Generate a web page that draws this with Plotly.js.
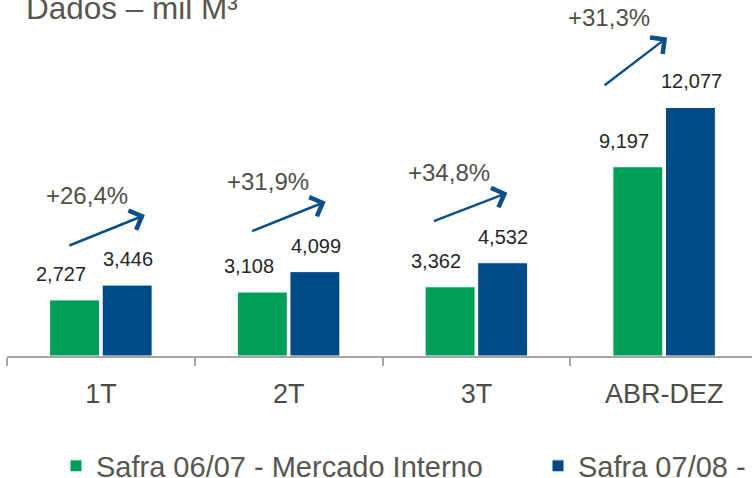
<!DOCTYPE html>
<html>
<head>
<meta charset="utf-8">
<script src="https://cdn.plot.ly/plotly-3.0.1.min.js"></script>
<style>
  html, body { margin: 0; padding: 0; overflow: hidden; background: #fff; }
  #chart { width: 1100px; height: 478px; }
</style>
</head>
<body>
<div id="chart"></div>
<script>
const categories = ['1T', '2T', '3T', 'ABR-DEZ'];
const safra0607 = [2727, 3108, 3362, 9197];
const safra0708 = [3446, 4099, 4532, 12077];
const seriesNames = ['Safra 06/07 - Mercado Interno', 'Safra 07/08 - Mercado Interno'];

const font = 'Liberation Sans, Arial, sans-serif';
const green = '#009e58';
const blue = '#004a87';

const fmt = v => v.toLocaleString('en-US');
const growth = (a, b) => '+' + ((b / a - 1) * 100).toFixed(1).replace('.', ',') + '%';

// arrow placement, px: head offset from category centre, tail offset from head
const headShift = [44, 37, 31, 3];
const tailOffset = [[-77, 31], [-75, 30], [-75, 29], [-64, 49]];

// the slide is cropped on the right, so the figure is wider than the window
const W = 1100;
const catPx = 187.75;
const plotW = W - 7;

const annotations = [{
    xref: 'paper', yref: 'paper', x: (24 - 7) / plotW, y: 1, xanchor: 'left', yanchor: 'bottom',
    yshift: -28, showarrow: false, text: 'Dados – mil M³',
    font: { family: font, size: 31.5, color: '#57574f' }
}];

categories.forEach((c, i) => {
    annotations.push({
        x: c, y: safra0607[i], xshift: -40, yshift: 13, yanchor: 'bottom',
        showarrow: false, text: fmt(safra0607[i]),
        font: { family: font, size: 20, color: '#262626' }
    });
    annotations.push({
        x: c, y: safra0708[i], xshift: 27, yshift: 13, yanchor: 'bottom',
        showarrow: false, text: fmt(safra0708[i]),
        font: { family: font, size: 20, color: '#262626' }
    });
    annotations.push({
        x: c, y: safra0708[i], xshift: headShift[i], yshift: 70,
        text: '', showarrow: true, arrowhead: 4, arrowsize: 1.6, arrowwidth: 2.5,
        arrowcolor: '#0b4f8c', ax: tailOffset[i][0], ay: tailOffset[i][1], standoff: 0
    });
    annotations.push({
        x: c, y: safra0708[i], xshift: headShift[i] - 58, yshift: 90,
        showarrow: false, text: growth(safra0607[i], safra0708[i]),
        font: { family: font, size: 24, color: '#4f4f47' }
    });
});

const data = [
    {
        type: 'bar', name: seriesNames[0], x: categories, y: safra0607,
        marker: { color: green, line: { color: '#ffffff', width: 1 } }, hoverinfo: 'none'
    },
    {
        type: 'bar', name: seriesNames[1], x: categories, y: safra0708,
        marker: { color: blue, line: { color: '#ffffff', width: 1 } }, hoverinfo: 'none'
    }
];

const layout = {
    width: W,
    height: 478,
    margin: { l: 7, r: 0, t: 0, b: 122, autoexpand: false },
    paper_bgcolor: '#ffffff',
    plot_bgcolor: '#ffffff',
    barmode: 'group',
    bargap: 0.44,
    bargroupgap: 0.05,
    font: { family: font },
    showlegend: true,
    legend: {
        orientation: 'h', x: (56 - 7) / plotW, xanchor: 'left', y: -110 / 356, yanchor: 'middle',
        font: { family: font, size: 29, color: '#57574f' },
        entrywidth: 437, entrywidthmode: 'pixels', bgcolor: 'rgba(0,0,0,0)'
    },
    xaxis: {
        type: 'category', range: [-0.5, -0.5 + plotW / catPx], showline: true,
        linecolor: '#a6a6a6', linewidth: 2,
        ticks: 'outside', tickson: 'boundaries', ticklen: 8, tickwidth: 2, tickcolor: '#a6a6a6',
        ticklabelstandoff: 13,
        showgrid: false, zeroline: false,
        tickfont: { family: font, size: 27, color: '#4d4d47' }
    },
    yaxis: { range: [0, 17300], visible: false, showgrid: false, zeroline: false },
    annotations: annotations
};

Plotly.newPlot('chart', data, layout, { displayModeBar: false, staticPlot: true });
</script>
</body>
</html>
